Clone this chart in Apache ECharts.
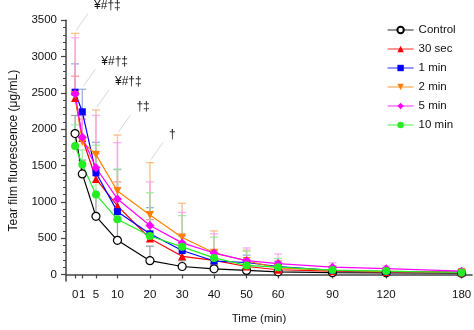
<!DOCTYPE html>
<html><head><meta charset="utf-8">
<script src="https://cdn.jsdelivr.net/npm/echarts@6/dist/echarts.min.js"></script>
<style>html,body{margin:0;padding:0;background:#fff}#chart{width:474px;height:330px}</style>
</head><body><div id="chart"></div>
<script>
// Sampling times (min)
const times = [0, 1, 5, 10, 20, 30, 40, 50, 60, 90, 120, 180];

// Mean tear film fluorescence (µg/mL) per group
const control = [1940, 1385, 800, 470, 190, 110, 78, 55, 37, 25, 22, 18];
const sec30   = [2430, 1880, 1315, 945, 495, 250, 195, 110, 65, 45, 35, 28];
const min1    = [2510, 2240, 1400, 865, 560, 330, 185, 165, 110, 55, 40, 30];
const min2    = [2470, 1825, 1650, 1150, 820, 510, 300, 185, 90, 55, 40, 30];
const min5    = [2490, 1890, 1470, 1040, 675, 435, 295, 190, 150, 100, 80, 45];
const min10   = [1770, 1515, 1100, 760, 530, 380, 228, 125, 100, 60, 46, 27];

// Standard deviations (upper whiskers)
const controlSd = [250, 190, 300, 290, 200, 80, 50, 35, 25, 15, 12, 10];
const sec30Sd   = [300, 260, 350, 330, 260, 150, 100, 60, 40, 30, 20, 15];
const min1Sd    = [390, 310, 420, 580, 360, 200, 150, 100, 70, 40, 30, 20];
const min2Sd    = [850, 360, 615, 770, 720, 470, 300, 150, 100, 60, 40, 30];
const min5Sd    = [770, 300, 720, 775, 600, 420, 265, 175, 133, 60, 35, 25];
const min10Sd   = [290, 200, 680, 690, 595, 430, 285, 195, 120, 50, 30, 20];

const groupNames = ['Control', '30 sec', '1 min', '2 min', '5 min', '10 min'];
const yTicks = [0, 500, 1000, 1500, 2000, 2500, 3000, 3500];

// Significance marks and the time points they belong to
const markTimes = [0, 1, 5, 10, 20];
const markTexts = ['¥#†‡', '¥#†‡', '¥#†‡', '†‡', '†'];

// The time axis is stretched: each sampling time has its own stop along it
const timeStops = [9.3, 16.7, 30.7, 52.7, 86, 119, 151.7, 185, 217.3, 273, 328, 405.3];
const axisEnd = 416;
const pos = t => timeStops[times.indexOf(t)];
const labelOf = p => {
  const i = timeStops.findIndex(s => Math.abs(s - p) < 0.01);
  return i < 0 ? '' : String(times[i]);
};

// minor ticks every 100 between the labelled ones
const yMinor = [];
for (let v = 0; v <= 3500; v += 100) if (v % 500) yMinor.push(v);

const groups = [
  { name: groupNames[0], vals: control, sd: controlSd, color: '#000000', bar: '#8a8a8a', symbol: 'circle', size: 8, fill: '#ffffff' },
  { name: groupNames[1], vals: sec30, sd: sec30Sd, color: '#ff0000', bar: '#ff8080', symbol: 'triangle', size: 8 },
  { name: groupNames[2], vals: min1, sd: min1Sd, color: '#0000ff', bar: '#7f9fe0', symbol: 'rect', size: 7 },
  { name: groupNames[3], vals: min2, sd: min2Sd, color: '#ff8000', bar: '#f5b070', symbol: 'path://M0,0 L10,0 L5,9 Z', size: 8 },
  { name: groupNames[4], vals: min5, sd: min5Sd, color: '#ff00ff', bar: '#f59cf5', symbol: 'diamond', size: 9 },
  { name: groupNames[5], vals: min10, sd: min10Sd, color: '#22ee22', bar: '#8fe88f', symbol: 'circle', size: 8 }
];

const series = [];
groups.forEach(g => {
  series.push({
    type: 'custom',
    name: 'sd ' + g.name,
    silent: true,
    z: 1,
    data: times.map((t, i) => [pos(t), g.vals[i], g.vals[i] + g.sd[i]]),
    encode: { x: 0, y: [1, 2] },
    renderItem(params, api) {
      const base = api.coord([api.value(0), api.value(1)]);
      const top = api.coord([api.value(0), api.value(2)]);
      const st = { stroke: g.bar, lineWidth: 1.3, opacity: 0.8 };
      return {
        type: 'group',
        children: [
          { type: 'line', shape: { x1: base[0], y1: base[1], x2: base[0], y2: top[1] }, style: st },
          { type: 'line', shape: { x1: base[0] - 4, y1: top[1], x2: base[0] + 4, y2: top[1] }, style: st }
        ]
      };
    }
  });
});
groups.forEach(g => {
  series.push({
    type: 'line',
    name: g.name,
    z: 3,
    data: times.map((t, i) => [pos(t), g.vals[i]]),
    symbol: g.symbol,
    symbolSize: g.size,
    showAllSymbol: true,
    lineStyle: { color: g.color, width: 1.2 },
    itemStyle: { color: g.fill || g.color, borderColor: g.color, borderWidth: g.fill ? 1.2 : 0, opacity: 1 },
    emphasis: { disabled: true },
    animation: false
  });
});

const font = 'Liberation Sans, Arial, sans-serif';
const chart = echarts.init(document.getElementById('chart'), null, { renderer: 'canvas' });
chart.setOption({
  backgroundColor: '#ffffff',
  animation: false,
  textStyle: { fontFamily: font },
  grid: { left: 58, right: 0, top: 20.3, bottom: 46.7, containLabel: false },
  legend: {
    orient: 'vertical',
    left: 382,
    top: 19,
    itemWidth: 26,
    itemHeight: 8,
    itemGap: 7,
    data: groupNames,
    lineStyle: { width: 1.2, opacity: 0.7 },
    textStyle: { fontFamily: font, fontSize: 11.5, color: '#111' }
  },
  xAxis: {
    type: 'value',
    min: 0,
    max: axisEnd,
    name: 'Time (min)',
    nameLocation: 'middle',
    nameGap: 32,
    nameTextStyle: { fontFamily: font, fontSize: 11.5, color: '#111', padding: [0, 20, 0, 0] },
    splitLine: { show: false },
    axisLine: { lineStyle: { color: '#444', width: 1.5 } },
    axisTick: { customValues: timeStops, length: 4, lineStyle: { color: '#444', width: 1.2 } },
    axisLabel: { customValues: timeStops, formatter: v => labelOf(v), fontSize: 11.5, color: '#111', margin: 8, fontFamily: font }
  },
  yAxis: [{
    type: 'value',
    min: -90,
    max: 3500,
    name: 'Tear film fluorescence (μg/mL)',
    nameLocation: 'middle',
    nameGap: 46,
    nameTextStyle: { fontFamily: font, fontSize: 12, color: '#111' },
    splitLine: { show: false },
    axisLine: { show: true, lineStyle: { color: '#444', width: 1.5 } },
    axisTick: { show: true, customValues: yTicks, length: 5, lineStyle: { color: '#444', width: 1.2 } },
    axisLabel: { customValues: yTicks, formatter: v => String(v), fontSize: 11.5, color: '#111', margin: 9, fontFamily: font }
  }, {
    type: 'value',
    min: -90,
    max: 3500,
    position: 'left',
    splitLine: { show: false },
    axisLine: { show: false },
    axisTick: { show: true, customValues: yMinor, length: 3, lineStyle: { color: '#444', width: 1 } },
    axisLabel: { show: false }
  }],
  series
});

// Significance marks: a thin leader from the tallest whisker at that time, then the symbols
const graphics = [];
markTimes.forEach((t, k) => {
  const i = times.indexOf(t);
  const topVal = Math.max(...groups.map(g => g.vals[i] + g.sd[i]));
  const p = chart.convertToPixel({ gridIndex: 0 }, [pos(t), topVal]);
  graphics.push({
    type: 'line',
    shape: { x1: p[0] + 1, y1: p[1] - 3, x2: p[0] + 13, y2: p[1] - 20 },
    style: { stroke: '#d8d8d8', lineWidth: 1 },
    silent: true
  });
  graphics.push({
    type: 'text',
    x: p[0] + 19,
    y: p[1] - 28,
    style: { text: markTexts[k], fontFamily: font, fontSize: 12, fill: '#111', verticalAlign: 'middle', align: 'left' },
    silent: true
  });
});
chart.setOption({ graphic: graphics });
</script>
</body></html>
